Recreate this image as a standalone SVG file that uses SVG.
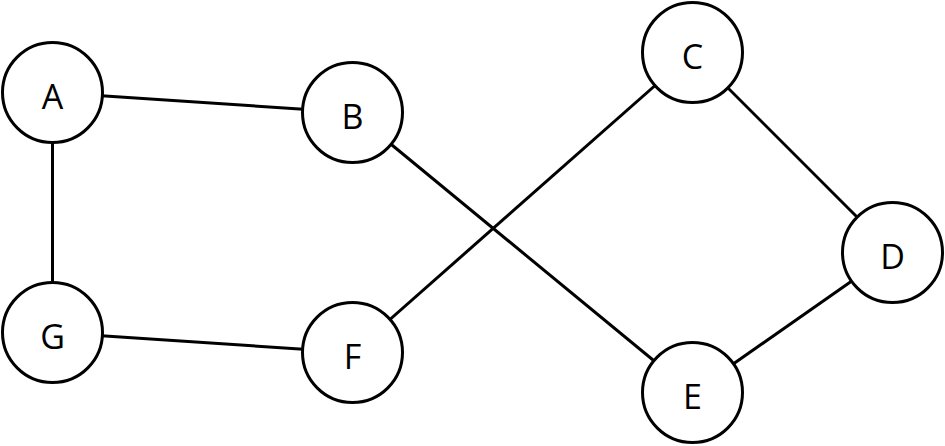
<svg xmlns="http://www.w3.org/2000/svg" width="945" height="446" viewBox="0 0 945 446">
<style>
.node circle{fill:#fff;stroke:#000;stroke-width:3}
.node text{font-family:"Open Sans","Noto Sans","DejaVu Sans",sans-serif;font-size:34px;fill:#000;text-anchor:middle}
.edges line{stroke:#000;stroke-width:3;fill:none}
</style>
<rect width="945" height="446" fill="#fff"/>
<g id="edges" class="edges">
<line x1="52.5" y1="92.5" x2="352.5" y2="112.5"/>
<line x1="52.5" y1="92.5" x2="52.5" y2="332.5"/>
<line x1="52.5" y1="332.5" x2="352.5" y2="352.5"/>
<line x1="352.5" y1="112.5" x2="692.5" y2="392.5"/>
<line x1="692.5" y1="52.5" x2="352.5" y2="352.5"/>
<line x1="692.5" y1="52.5" x2="892.5" y2="252.5"/>
<line x1="892.5" y1="252.5" x2="692.5" y2="392.5"/>
</g>
<g id="A" class="node"><circle cx="52.5" cy="92.5" r="50"/><text x="52.5" y="108.5">A</text></g>
<g id="B" class="node"><circle cx="352.5" cy="112.5" r="50"/><text x="352.5" y="128.5">B</text></g>
<g id="C" class="node"><circle cx="692.5" cy="52.5" r="50"/><text x="692.5" y="68.5">C</text></g>
<g id="D" class="node"><circle cx="892.5" cy="252.5" r="50"/><text x="892.5" y="268.5">D</text></g>
<g id="E" class="node"><circle cx="692.5" cy="392.5" r="50"/><text x="692.5" y="408.5">E</text></g>
<g id="F" class="node"><circle cx="352.5" cy="352.5" r="50"/><text x="352.5" y="368.5">F</text></g>
<g id="G" class="node"><circle cx="52.5" cy="332.5" r="50"/><text x="52.5" y="348.5">G</text></g>
</svg>
